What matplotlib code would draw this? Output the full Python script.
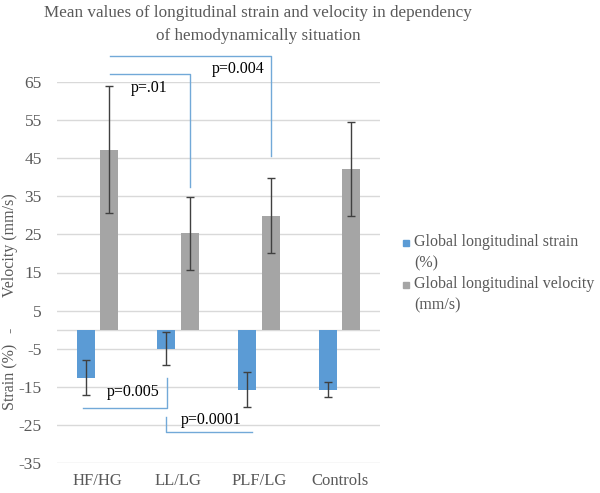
import matplotlib
matplotlib.use("Agg")
import matplotlib.pyplot as plt
from matplotlib.patches import Rectangle
import numpy as np

categories = ["HF/HG", "LL/LG", "PLF/LG", "Controls"]
strain = [-12.6, -5.0, -15.8, -15.8]
strain_err = [4.6, 4.3, 4.6, 2.0]
velocity = [47.2, 25.3, 29.9, 42.2]
velocity_err = [16.7, 9.6, 9.8, 12.4]
series_labels = ["Global longitudinal strain\n(%)", "Global longitudinal velocity\n(mm/s)"]
yticks = [65, 55, 45, 35, 25, 15, 5, -5, -15, -25, -35]

plt.rcParams['font.family'] = ['Liberation Serif', 'DejaVu Serif']
TXT = '#595959'
BLUE = '#5b9bd5'
GRAY = '#a5a5a5'
LINE = '#72a9d8'

W, H = 600, 493
fig = plt.figure(figsize=(6, 4.93), dpi=100)
ax = fig.add_axes([57 / W, (H - 463) / H, 323 / W, 381 / H])

x = np.arange(len(categories))
off = 0.146
bw = 0.222
ax.bar(x - off, strain, bw, color=BLUE, zorder=3)
ax.bar(x + off, velocity, bw, color=GRAY, zorder=3)
ax.errorbar(x - off, strain, yerr=strain_err, fmt='none', ecolor='#404040',
            elinewidth=1, capsize=3, capthick=1, zorder=4)
ax.errorbar(x + off, velocity, yerr=velocity_err, fmt='none', ecolor='#404040',
            elinewidth=1, capsize=3, capthick=1, zorder=4)

ax.set_xlim(-0.5, 3.5)
ax.set_ylim(-35, 65)
ax.set_yticks(yticks)
ax.set_yticklabels([str(t) for t in yticks])
ax.set_xticks(x)
ax.set_xticklabels(categories)
ax.tick_params(axis='both', length=0, colors=TXT)
ax.tick_params(axis='x', labelsize=12, pad=7)
ax.tick_params(axis='y', labelsize=12.5, pad=11)
for s in ax.spines.values():
    s.set_visible(False)
ax.grid(axis='y', color='#d9d9d9', linewidth=1, zorder=0)
ax.axhline(0, color='#d9d9d9', linewidth=1, zorder=1)

# significance brackets
kw = dict(color=LINE, linewidth=1, clip_on=False, zorder=5)
ax.plot([0.156, 2.146, 2.146], [71.7, 71.7, 45.6], **kw)
ax.plot([0.156, 1.147, 1.147], [67.0, 67.0, 37.5], **kw)
ax.plot([-0.178, 0.858, 0.858], [-20.5, -20.5, -12.7], **kw)
ax.plot([0.846, 0.846, 1.911], [-22.9, -26.9, -26.9], **kw)
tk = dict(fontsize=11.5, color='black', ha='center', va='center', zorder=6)
ax.text(1.74, 68.3, "p=0.004", **tk)
ax.text(0.64, 63.4, "p=.01", **tk)
ax.text(0.44, -16.3, "p=0.005", **tk)
ax.text(1.407, -23.7, "p=0.0001", **tk)

# title
fig.text(258 / W, 1 - 13 / H, "Mean values of longitudinal strain and velocity in dependency",
         ha='center', va='center', fontsize=12.3, color=TXT)
fig.text(258 / W, 1 - 36 / H, "of hemodynamically situation",
         ha='center', va='center', fontsize=12.3, color=TXT)

# y labels
fig.text(10 / W, 1 - 245 / H, "Velocity (mm/s)", rotation=90, ha='center', va='center',
         fontsize=11.5, color=TXT)
fig.text(10 / W, 1 - 330 / H, "-", rotation=90, ha='center', va='center',
         fontsize=11.5, color=TXT)
fig.text(10 / W, 1 - 377 / H, "Strain (%)", rotation=90, ha='center', va='center',
         fontsize=11.5, color=TXT)

# legend
for i, (lab, col) in enumerate(zip(series_labels, [BLUE, GRAY])):
    ytop = 243 + i * 42
    fig.patches.append(Rectangle((403 / W, 1 - (ytop + 3) / H), 6 / W, 6 / H,
                                 transform=fig.transFigure, color=col))
    fig.text(414 / W, 1 - (ytop - 9) / H, lab, ha='left', va='top', fontsize=11.5,
             color=TXT, linespacing=1.45)

fig.savefig("out.png", dpi=100)
